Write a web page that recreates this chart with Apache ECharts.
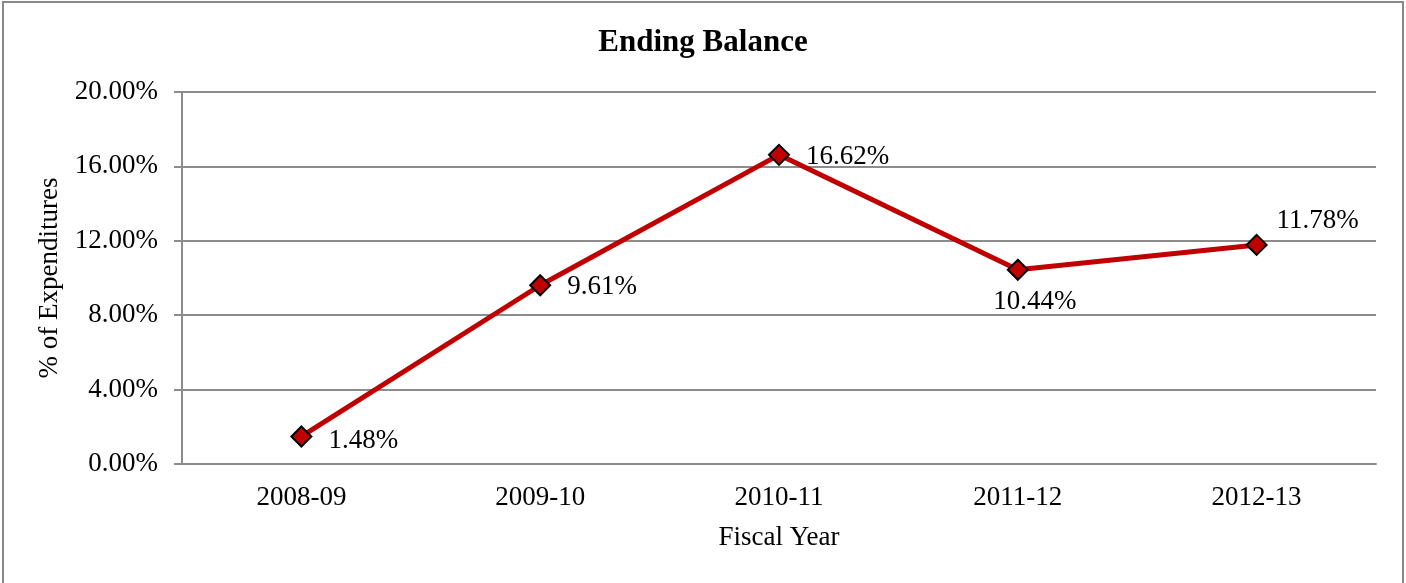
<!DOCTYPE html>
<html>
<head>
<meta charset="utf-8">
<script src="https://cdn.jsdelivr.net/npm/echarts@6/dist/echarts.min.js"></script>
<style>
html,body{margin:0;padding:0;background:#fff;}
#frame{position:absolute;left:2px;top:1px;width:1402px;height:600px;border:2px solid #888;border-bottom:none;box-sizing:border-box;}
#chart{position:absolute;left:0;top:0;width:1406px;height:583px;}
</style>
</head>
<body>
<div id="frame"></div>
<div id="chart"></div>
<script>
const categories = ['2008-09', '2009-10', '2010-11', '2011-12', '2012-13'];
const values = [1.48, 9.61, 16.62, 10.44, 11.78];
const yTicks = [0, 4, 8, 12, 16, 20];
const labelPositions = ['right', 'right', 'right', 'bottom', 'top'];

const font = '"Liberation Serif", "Times New Roman", serif';
const labelOffsets = [[6, 4], [6, 2], [6, 2], [17, -2], [61, 11]];

const chart = echarts.init(document.getElementById('chart'));
chart.setOption({
  animation: false,
  title: {
    text: 'Ending Balance',
    left: 'center',
    top: 22,
    textStyle: {fontFamily: font, fontSize: 31, fontWeight: 'bold', color: '#000'}
  },
  grid: {left: 182, right: 30, top: 92, bottom: 119},
  xAxis: {
    type: 'category',
    data: categories,
    boundaryGap: true,
    name: 'Fiscal Year',
    nameLocation: 'middle',
    nameGap: 60,
    nameTextStyle: {fontFamily: font, fontSize: 27, color: '#000'},
    axisLine: {lineStyle: {color: '#8c8c8c', width: 2}},
    axisTick: {show: false},
    axisLabel: {fontFamily: font, fontSize: 27, color: '#000', margin: 20}
  },
  yAxis: {
    type: 'value',
    min: yTicks[0],
    max: yTicks[yTicks.length - 1],
    interval: 4,
    name: '% of Expenditures',
    nameLocation: 'middle',
    nameGap: 117,
    nameRotate: 90,
    nameTextStyle: {fontFamily: font, fontSize: 27, color: '#000'},
    axisLine: {show: true, lineStyle: {color: '#8c8c8c', width: 2}},
    axisTick: {show: true, length: 8, lineStyle: {color: '#8c8c8c', width: 2}},
    splitLine: {lineStyle: {color: '#8c8c8c', width: 2}},
    axisLabel: {fontFamily: font, fontSize: 27, color: '#000', margin: 24,
      formatter: v => v.toFixed(2) + '%'}
  },
  series: [{
    type: 'line',
    data: values.map((v, i) => ({
      value: v,
      label: {position: labelPositions[i], offset: labelOffsets[i]}
    })),
    lineStyle: {color: '#C00000', width: 5},
    symbol: 'diamond',
    symbolSize: 20,
    itemStyle: {color: '#C00000', borderColor: '#000', borderWidth: 2},
    label: {
      show: true,
      fontFamily: font,
      fontSize: 27,
      color: '#000',
      distance: 10,
      formatter: p => p.value.toFixed(2) + '%'
    },
    z: 3
  }]
});
</script>
</body>
</html>
